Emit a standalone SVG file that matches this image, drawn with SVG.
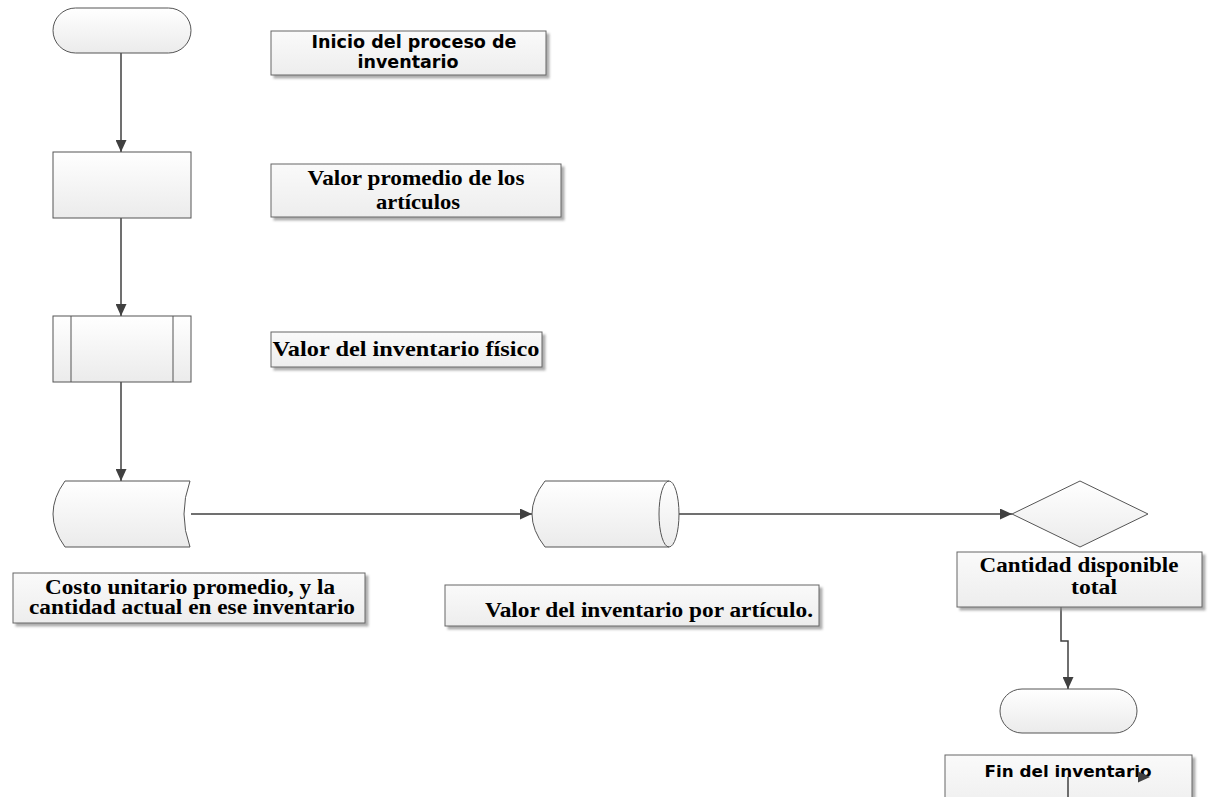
<svg xmlns="http://www.w3.org/2000/svg" width="1209" height="797" viewBox="0 0 1209 797">
<defs>
<linearGradient id="g" x1="0" y1="0" x2="0" y2="1"><stop offset="0" stop-color="#ffffff"/><stop offset="1" stop-color="#ebebeb"/></linearGradient>
<linearGradient id="gl" x1="0" y1="0" x2="0" y2="1"><stop offset="0" stop-color="#fafafa"/><stop offset="1" stop-color="#ededed"/></linearGradient>
<filter id="sh" x="-5%" y="-10%" width="115%" height="130%"><feDropShadow dx="3" dy="3" stdDeviation="1" flood-color="#8c8c8c" flood-opacity="0.7"/></filter>
<marker id="ar" markerUnits="userSpaceOnUse" markerWidth="12" markerHeight="11" refX="12" refY="5.5" orient="auto"><path d="M0,0 L12,5.5 L0,11 Z" fill="#404040"/></marker>
</defs>
<style>
.shape{fill:url(#g);stroke:#555;stroke-width:1}
.lbl{fill:url(#gl);stroke:#666;stroke-width:1;filter:url(#sh)}
.ln{fill:none;stroke:#404040;stroke-width:1.5}
.sans{font-family:"DejaVu Sans",Verdana,sans-serif;font-weight:bold;fill:#000;text-anchor:middle}
.serif{font-family:"Liberation Serif","Times New Roman",serif;font-weight:bold;fill:#000;text-anchor:middle}
</style>
<rect width="1209" height="797" fill="#fff"/>
<g id="connectors">
<line class="ln" x1="121" y1="53" x2="121" y2="152" marker-end="url(#ar)"/>
<line class="ln" x1="121" y1="218" x2="121" y2="316" marker-end="url(#ar)"/>
<line class="ln" x1="121" y1="382" x2="121" y2="481" marker-end="url(#ar)"/>
<line class="ln" x1="191" y1="514" x2="532" y2="514" marker-end="url(#ar)"/>
<line class="ln" x1="679" y1="514" x2="1012" y2="514" marker-end="url(#ar)"/>
<polyline class="ln" points="1061,607 1061,641 1068,641 1068,689" marker-end="url(#ar)"/>
</g>
<g id="start"><rect class="shape" x="53" y="8" width="138" height="45" rx="22.5"/></g>
<g id="label-inicio"><rect class="lbl" x="271" y="31" width="275" height="44"/>
<text class="sans" font-size="17" x="414" y="48" textLength="205" lengthAdjust="spacingAndGlyphs">Inicio del proceso de</text>
<text class="sans" font-size="17" x="408" y="68" textLength="101" lengthAdjust="spacingAndGlyphs">inventario</text></g>
<g id="process"><rect class="shape" x="53" y="152" width="138" height="66"/></g>
<g id="label-promedio"><rect class="lbl" x="271" y="164" width="290" height="53"/>
<text class="serif" font-size="21" x="416" y="185" textLength="217" lengthAdjust="spacingAndGlyphs">Valor promedio de los</text>
<text class="serif" font-size="21" x="418" y="209" textLength="84" lengthAdjust="spacingAndGlyphs">artículos</text></g>
<g id="subprocess"><rect class="shape" x="53" y="316" width="138" height="66"/>
<line x1="71" y1="316" x2="71" y2="382" stroke="#555"/><line x1="173" y1="316" x2="173" y2="382" stroke="#555"/></g>
<g id="label-fisico"><rect class="lbl" x="271" y="332" width="271" height="35"/>
<text class="serif" font-size="21" x="406" y="356" textLength="267" lengthAdjust="spacingAndGlyphs">Valor del inventario físico</text></g>
<g id="stored-data"><path class="shape" d="M65,481 H190 Q178,514 190,547 H65 Q41,514 65,481 Z"/></g>
<g id="label-costo"><rect class="lbl" x="13" y="573" width="352" height="50"/>
<text class="serif" font-size="20" x="190" y="594" textLength="290" lengthAdjust="spacingAndGlyphs">Costo unitario promedio, y la</text>
<text class="serif" font-size="20" x="192" y="614" textLength="326" lengthAdjust="spacingAndGlyphs">cantidad actual en ese inventario</text></g>
<g id="cylinder"><path class="shape" d="M545,481 H669 A10,33 0 0 1 669,547 H545 Q519,514 545,481 Z"/>
<path d="M669,481 A10,33 0 0 0 669,547" fill="none" stroke="#555"/></g>
<g id="label-articulo"><rect class="lbl" x="445" y="585" width="374" height="41"/>
<text class="serif" font-size="20" x="485" y="617" style="text-anchor:start" textLength="328" lengthAdjust="spacingAndGlyphs">Valor del inventario por artículo.</text></g>
<g id="decision"><polygon class="shape" points="1012,514 1080,481 1148,514 1080,547"/></g>
<g id="label-cantidad"><rect class="lbl" x="957" y="552" width="245" height="55"/>
<text class="serif" font-size="20" x="1079" y="572" textLength="199" lengthAdjust="spacingAndGlyphs">Cantidad disponible</text>
<text class="serif" font-size="20" x="1094" y="594" textLength="46" lengthAdjust="spacingAndGlyphs">total</text></g>
<g id="end"><rect class="shape" x="1000" y="689" width="137" height="44" rx="22"/></g>
<g id="label-fin"><rect class="lbl" x="945" y="755" width="247" height="60"/>
<text class="sans" font-size="15" x="1068" y="777" textLength="167" lengthAdjust="spacingAndGlyphs">Fin del inventario</text></g>
<g id="connectors-bottom">
<line class="ln" x1="1068" y1="777" x2="1068" y2="797"/>
<path d="M1138,771.5 L1150,777 L1138,782.5 Z" fill="#404040"/>
</g>
</svg>
